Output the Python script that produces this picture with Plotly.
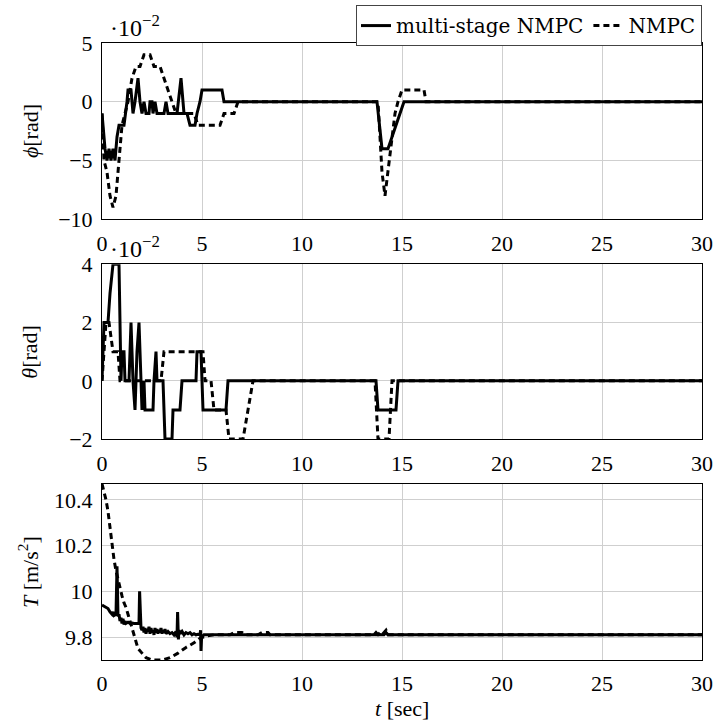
import plotly.graph_objects as go
from plotly.subplots import make_subplots

# ---------------- data (phi and theta in units of 1e-2 rad) ----------------
phi_ms_t = [0, 0.15, 0.25, 0.35, 0.45, 0.55, 0.65, 0.75, 0.85, 1.1, 1.25, 1.3, 1.45, 1.55, 1.65, 1.8, 1.9,
            2.0, 2.1, 2.2, 2.35, 2.4, 2.5, 2.55, 2.65, 2.75, 3.1, 3.2, 3.3, 3.75, 3.95, 4.1, 4.25, 4.4,
            4.65, 4.75, 4.9, 5.0, 6.0, 6.1, 13.75, 14.0, 14.3, 14.5, 14.7, 14.9, 15.1, 30]
phi_ms_v = [-1, -4, -5, -4, -5, -4, -5, -3, -2, -2, 0, 1, 1, -1, 0, 2, 0,
            -1, 0, -1, -1, 0, 0, -1, 0, -1, -1, 0, -1, -1, 2, -1, -1, -2,
            -2, -1, 0, 1, 1, 0, 0, -4, -4, -3, -2, -1, 0, 0]

phi_nm_t = [0, 0.1, 0.25, 0.4, 0.55, 0.7, 0.8, 0.9, 1.0, 1.15, 1.3, 1.5, 1.7, 1.9, 2.1, 2.4, 2.6, 2.9,
            3.1, 3.3, 3.5, 3.7, 4.6, 4.8, 5.9, 6.1, 6.6, 6.8, 13.8, 14.0, 14.15, 14.3, 14.5, 14.65,
            14.8, 15.0, 16.1, 16.2, 30]
phi_nm_v = [-1, -5, -6, -8, -9, -8, -6, -4, -2, -1, 0, 2, 3, 3, 4, 4, 3, 3,
            2, 1, 0, -1, -1, -2, -2, -1, -1, 0, 0, -6, -8, -6, -3, -1,
            0, 1, 1, 0, 0]

theta_ms_t = [0, 0.1, 0.3, 0.4, 0.55, 0.85, 0.95, 1.0, 1.1, 1.15, 1.35, 1.45, 1.55, 1.65, 1.75, 1.85,
              1.95, 2.0, 2.1, 2.15, 2.55, 2.6, 2.7, 2.75, 3.05, 3.15, 3.5, 3.55, 3.9, 4.0, 4.7, 4.75,
              4.95, 5.05, 6.2, 6.3, 13.7, 13.8, 14.7, 14.8, 30]
theta_ms_v = [0, 2, 2, 3, 4, 4, 0, 1, 1, 0, 0, 2, 0, -1, 1, 2,
              0, -1, 0, -1, -1, 0, 1, 0, 0, -2, -2, -1, -1, 0, 0, 1,
              1, -1, -1, 0, 0, -1, -1, 0, 0]

theta_nm_t = [0, 0.2, 0.35, 0.55, 0.8, 0.9, 2.95, 3.1, 5.05, 5.15, 5.45, 5.6, 6.2, 6.35, 7.05, 7.3,
              7.55, 13.65, 13.8, 14.35, 14.5, 30]
theta_nm_v = [0, 2, 2, 1, 1, 0, 0, 1, 1, 0, 0, -1, -1, -2, -2, -1,
              0, 0, -2, -2, 0, 0]

T_ms_t = [0, 0.1, 0.2, 0.3, 0.4, 0.5, 0.55, 0.6, 0.7, 0.75, 0.8, 0.85, 0.9, 0.95, 1.0, 1.05, 1.1,
          1.15, 1.2, 1.3, 1.4, 1.5, 1.6, 1.7, 1.85, 1.88, 1.92, 1.95, 2.0, 2.05, 2.1, 2.15, 2.2,
          2.25, 2.3, 2.35, 2.4, 2.45, 2.5, 2.55, 2.6, 2.65, 2.7, 2.75, 2.8, 2.85, 2.9, 2.95, 3.0,
          3.05, 3.1, 3.15, 3.2, 3.3, 3.4, 3.5, 3.6, 3.7, 3.75, 3.78, 3.82, 3.85, 3.9, 4.0, 4.1,
          4.2, 4.3, 4.4, 4.5, 4.6, 4.7, 4.8, 4.9, 4.93, 4.95, 4.98, 5.1, 13.6, 13.7, 13.8, 14.1,
          14.2, 14.3, 30]
T_ms_v = [9.94, 9.935, 9.93, 9.925, 9.91, 9.9, 9.91, 9.895, 9.9, 10.11, 9.89, 9.9, 9.87, 9.885,
          9.86, 9.88, 9.855, 9.87, 9.86, 9.865, 9.86, 9.862, 9.86, 9.86, 9.86, 10.0, 9.86, 9.84,
          9.83, 9.845, 9.82, 9.84, 9.815, 9.835, 9.825, 9.845, 9.815, 9.84, 9.82, 9.83, 9.81,
          9.84, 9.82, 9.835, 9.815, 9.83, 9.82, 9.84, 9.815, 9.83, 9.82, 9.835, 9.815, 9.825,
          9.815, 9.82, 9.81, 9.825, 9.8, 9.91, 9.79, 9.83, 9.815, 9.825, 9.81, 9.82, 9.815, 9.82,
          9.81, 9.815, 9.81, 9.812, 9.81, 9.83, 9.74, 9.8, 9.81, 9.81, 9.82, 9.81, 9.81, 9.82,
          9.81, 9.81]

T_nm_t = [0, 0.1, 0.2, 0.3, 0.4, 0.5, 0.6, 0.7, 0.8, 0.9, 1.0, 1.1, 1.2, 1.3, 1.4, 1.5, 1.6, 1.7,
          1.8, 2.0, 2.2, 2.5, 3.0, 3.4, 3.8, 4.2, 4.6, 4.9, 5.2, 5.6, 6.4, 6.6, 7.0, 7.2, 7.8, 8.0,
          8.3, 8.4, 13.8, 13.9, 14.0, 14.2, 14.3, 30]
T_nm_v = [10.47, 10.44, 10.4, 10.35, 10.28, 10.2, 10.14, 10.09, 10.05, 10.01, 9.98, 9.95, 9.93,
          9.9, 9.87, 9.83, 9.8, 9.77, 9.75, 9.73, 9.71, 9.7, 9.7, 9.71, 9.73, 9.755, 9.775, 9.795,
          9.805, 9.81, 9.81, 9.82, 9.82, 9.81, 9.81, 9.82, 9.82, 9.81, 9.81, 9.82, 9.81, 9.83,
          9.81, 9.81]

x_ticks = [0, 5, 10, 15, 20, 25, 30]
phi_ticks = [5, 0, -5, -10]
theta_ticks = [4, 2, 0, -2]
T_ticks = [10.4, 10.2, 10.0, 9.8]
T_ticklabels = ["10.4", "10.2", "10", "9.8"]

name_ms = "multi-stage NMPC"
name_nm = "NMPC"

# ---------------- figure ----------------
FONT = "Liberation Serif, Times New Roman, serif"
LEGFONT = "DejaVu Serif, serif"
TICK = 22
fig = make_subplots(rows=3, cols=1)

solid = dict(color="black", width=3)
dashed = dict(color="black", width=3, dash="6px,4px")

series = [
    (1, phi_ms_t, phi_ms_v, phi_nm_t, phi_nm_v),
    (2, theta_ms_t, theta_ms_v, theta_nm_t, theta_nm_v),
    (3, T_ms_t, T_ms_v, T_nm_t, T_nm_v),
]
for row, ts, vs, tn, vn in series:
    fig.add_trace(go.Scatter(x=ts, y=vs, mode="lines", line=solid, name=name_ms,
                             showlegend=(row == 1), legendgroup="ms"), row=row, col=1)
    fig.add_trace(go.Scatter(x=tn, y=vn, mode="lines", line=dashed, name=name_nm,
                             showlegend=(row == 1), legendgroup="nm"), row=row, col=1)

def minus(v):
    s = f"{v:g}"
    return s.replace("-", "\u2212")

axis_common = dict(showline=True, mirror=True, linecolor="black", linewidth=1,
                   showgrid=True, gridcolor="#cfcfcf", gridwidth=1, zeroline=False,
                   ticks="outside", ticklen=4, tickcolor="rgba(0,0,0,0)",
                   tickfont=dict(family=FONT, size=TICK, color="black"))

for i in range(1, 4):
    fig.update_xaxes(range=[0, 30], tickvals=x_ticks, ticktext=[str(v) for v in x_ticks],
                     row=i, col=1, **axis_common)

fig.update_yaxes(range=[-10, 5], tickvals=phi_ticks, ticktext=[minus(v) for v in phi_ticks],
                 row=1, col=1, **axis_common)
fig.update_yaxes(range=[-2, 4], tickvals=theta_ticks, ticktext=[minus(v) for v in theta_ticks],
                 row=2, col=1, **axis_common)
fig.update_yaxes(range=[9.70, 10.47], tickvals=T_ticks, ticktext=T_ticklabels,
                 row=3, col=1, **axis_common)

fig.update_layout(
    yaxis=dict(domain=[0.7144, 1.0]),
    yaxis2=dict(domain=[0.358, 0.6415]),
    yaxis3=dict(domain=[0.0, 0.2855]),
)

annos = [
    dict(text="<i>ϕ</i>[rad]", x=-0.12, y=(0.7144 + 1.0) / 2, textangle=-90),
    dict(text="<i>θ</i>[rad]", x=-0.12, y=(0.358 + 0.6415) / 2, textangle=-90),
    dict(text="<i>T</i> [m/s<sup>2</sup>]", x=-0.123, y=0.2855 / 2, textangle=-90),
    dict(text="<i>t</i> [sec]", x=0.5, y=-0.079, textangle=0),
]
for a in annos:
    fig.add_annotation(xref="paper", yref="paper", showarrow=False,
                       xanchor="center", yanchor="middle",
                       font=dict(family=FONT, size=TICK, color="black"), **a)
for ytop in [1.0, 0.6415]:
    fig.add_annotation(xref="paper", yref="paper", x=0.010, y=ytop, xanchor="left",
                       yanchor="bottom", showarrow=False, text="·10<sup>−2</sup>",
                       font=dict(family=FONT, size=24, color="black"))

fig.update_layout(
    width=715, height=724,
    margin=dict(l=102, r=13, t=43, b=64, autoexpand=False),
    paper_bgcolor="white", plot_bgcolor="white",
    font=dict(family=FONT, size=TICK, color="black"),
    legend=dict(orientation="h", x=1.0, xanchor="right", y=0.995, yanchor="bottom",
                bgcolor="white", bordercolor="#444", borderwidth=1,
                font=dict(family=LEGFONT, size=20, color="black"),
                itemwidth=30, tracegroupgap=0),
    showlegend=True,
)

fig.write_html("out.html", config={"displayModeBar": False},
               post_script="document.body.style.margin='0px';")
